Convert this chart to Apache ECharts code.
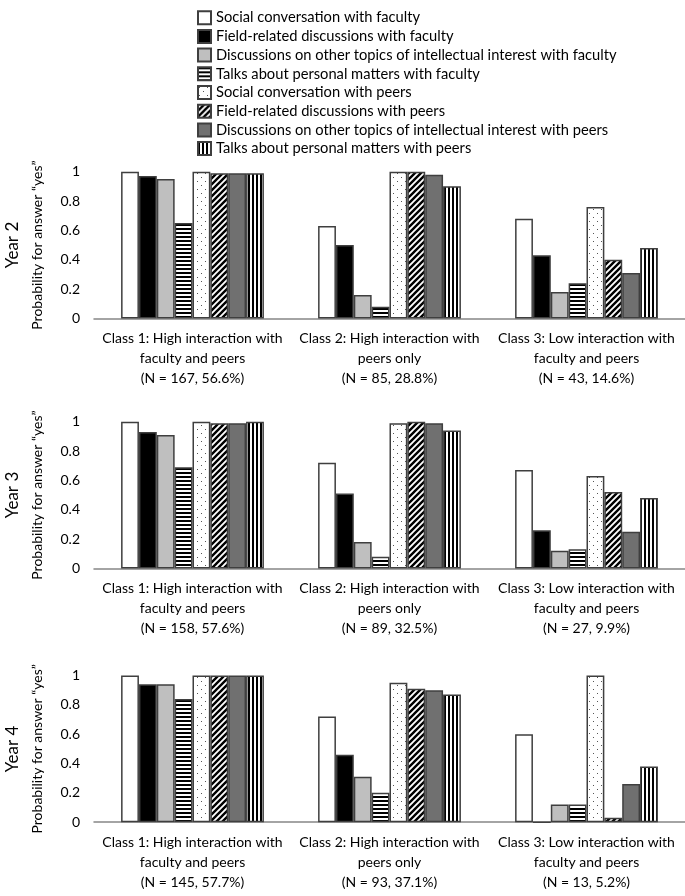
<!DOCTYPE html>
<html>
<head>
<meta charset="utf-8">
<script src="https://cdn.jsdelivr.net/npm/echarts@6/dist/echarts.min.js"></script>
<style>
html,body{margin:0;padding:0;background:#fff;}
#chart{width:685px;height:896px;}
</style>
</head>
<body>
<div id="chart"></div>
<script>
// ---- data ----
const seriesNames = [
  "Social conversation with faculty",
  "Field-related discussions with faculty",
  "Discussions on other topics of intellectual interest with faculty",
  "Talks about personal matters with faculty",
  "Social conversation with peers",
  "Field-related discussions with peers",
  "Discussions on other topics of intellectual interest with peers",
  "Talks about personal matters with peers"
];
const yearLabels = ["Year 2", "Year 3", "Year 4"];
const year2Categories = [
  "Class 1: High interaction with\nfaculty and peers\n(N = 167, 56.6%)",
  "Class 2: High interaction with\npeers only\n(N = 85, 28.8%)",
  "Class 3: Low interaction with\nfaculty and peers\n(N = 43, 14.6%)"
];
const year3Categories = [
  "Class 1: High interaction with\nfaculty and peers\n(N = 158, 57.6%)",
  "Class 2: High interaction with\npeers only\n(N = 89, 32.5%)",
  "Class 3: Low interaction with\nfaculty and peers\n(N = 27, 9.9%)"
];
const year4Categories = [
  "Class 1: High interaction with\nfaculty and peers\n(N = 145, 57.7%)",
  "Class 2: High interaction with\npeers only\n(N = 93, 37.1%)",
  "Class 3: Low interaction with\nfaculty and peers\n(N = 13, 5.2%)"
];
// values per class, in the order of seriesNames
const year2Class1 = [1.00, 0.97, 0.95, 0.65, 1.00, 0.99, 0.99, 0.99];
const year2Class2 = [0.63, 0.50, 0.16, 0.08, 1.00, 1.00, 0.98, 0.90];
const year2Class3 = [0.68, 0.43, 0.18, 0.24, 0.76, 0.40, 0.31, 0.48];
const year3Class1 = [1.00, 0.93, 0.91, 0.69, 1.00, 0.99, 0.99, 1.00];
const year3Class2 = [0.72, 0.51, 0.18, 0.08, 0.99, 1.00, 0.99, 0.94];
const year3Class3 = [0.67, 0.26, 0.12, 0.13, 0.63, 0.52, 0.25, 0.48];
const year4Class1 = [1.00, 0.94, 0.94, 0.84, 1.00, 1.00, 1.00, 1.00];
const year4Class2 = [0.72, 0.46, 0.31, 0.20, 0.95, 0.91, 0.90, 0.87];
const year4Class3 = [0.60, 0.00, 0.12, 0.12, 1.00, 0.03, 0.26, 0.38];
const yTicks = [0, 0.2, 0.4, 0.6, 0.8, 1];

// ---- patterns ----
function pat(w, h, draw) {
  const c = document.createElement('canvas');
  c.width = w; c.height = h;
  const g = c.getContext('2d');
  g.fillStyle = '#fff'; g.fillRect(0, 0, w, h);
  draw(g);
  return { image: c, repeat: 'repeat' };
}
const hStripe = pat(4, 4, g => { g.fillStyle = '#000'; g.fillRect(0, 0, 4, 2); });
const vStripe = pat(4, 4, g => { g.fillStyle = '#000'; g.fillRect(0, 0, 2, 4); });
const diag = pat(6, 6, g => {
  g.strokeStyle = '#000'; g.lineWidth = 2.4; g.lineCap = 'square';
  g.beginPath();
  g.moveTo(-1, 7); g.lineTo(7, -1);
  g.moveTo(-4, 4); g.lineTo(4, -4);
  g.moveTo(2, 10); g.lineTo(10, 2);
  g.stroke();
});
const dots = pat(8, 8, g => {
  g.fillStyle = '#555';
  g.fillRect(1, 1, 1, 1);
  g.fillRect(5, 5, 1, 1);
});
const fills = ['#ffffff', '#000000', '#bfbfbf', hStripe, dots, diag, '#707070', vStripe];

// ---- layout ----
const FONT = 'Lato';
const panelTops = [171.7, 421.7, 675.5];
const panelH = 146.7;
const gridLeft = 94;
const gridWidth = 594;
const catSets = [year2Categories, year3Categories, year4Categories];
const valueSets = [
  [year2Class1, year2Class2, year2Class3],
  [year3Class1, year3Class2, year3Class3],
  [year4Class1, year4Class2, year4Class3]
];

const grids = [], xAxes = [], yAxes = [], series = [], graphics = [];
for (let p = 0; p < 3; p++) {
  grids.push({ left: gridLeft, top: panelTops[p], width: gridWidth, height: panelH, containLabel: false });
  xAxes.push({
    type: 'category', gridIndex: p, data: catSets[p],
    axisLine: { show: true, lineStyle: { color: '#868686', width: 1.5 } },
    axisTick: { show: false },
    axisLabel: { color: '#000', fontFamily: FONT, fontSize: 14, lineHeight: 20, margin: 10, interval: 0 }
  });
  yAxes.push({
    type: 'value', gridIndex: p, min: 0, max: 1, interval: 0.2,
    axisLine: { show: false }, axisTick: { show: false }, splitLine: { show: false },
    axisLabel: { color: '#000', fontFamily: FONT, fontSize: 14, margin: 14,
      formatter: v => String(yTicks[Math.round(v / 0.2)]) },
    name: 'Probability for answer \u201cyes\u201d', nameLocation: 'middle', nameRotate: 90, nameGap: 50,
    nameTextStyle: { color: '#000', fontFamily: FONT, fontSize: 14 }
  });
  for (let s = 0; s < 8; s++) {
    series.push({
      type: 'bar', name: seriesNames[s], xAxisIndex: p, yAxisIndex: p,
      data: valueSets[p].map(arr => arr[s]),
      barGap: '0%', barCategoryGap: '27.5%',
      itemStyle: { color: fills[s], borderColor: '#3f3f3f', borderWidth: 1.5 },
      emphasis: { disabled: true },
      animation: false
    });
  }
  graphics.push({
    type: 'text', x: 13, y: panelTops[p] + panelH / 2, rotation: Math.PI / 2,
    style: { text: yearLabels[p], fill: '#000', font: '17px ' + FONT, textAlign: 'center', textVerticalAlign: 'middle' }
  });
}

const chart = echarts.init(document.getElementById('chart'), null, { renderer: 'canvas' });
chart.setOption({
  animation: false,
  backgroundColor: '#fff',
  grid: grids, xAxis: xAxes, yAxis: yAxes, series: series,
  graphic: graphics,
  legend: {
    orient: 'vertical', left: 192, top: 5.2,
    itemWidth: 13, itemHeight: 13, itemGap: 3.7,
    icon: 'rect',
    data: seriesNames,
    textStyle: { color: '#000', fontFamily: FONT, fontSize: 14.7, lineHeight: 15 },
    selectedMode: false
  }
});
</script>
</body>
</html>
